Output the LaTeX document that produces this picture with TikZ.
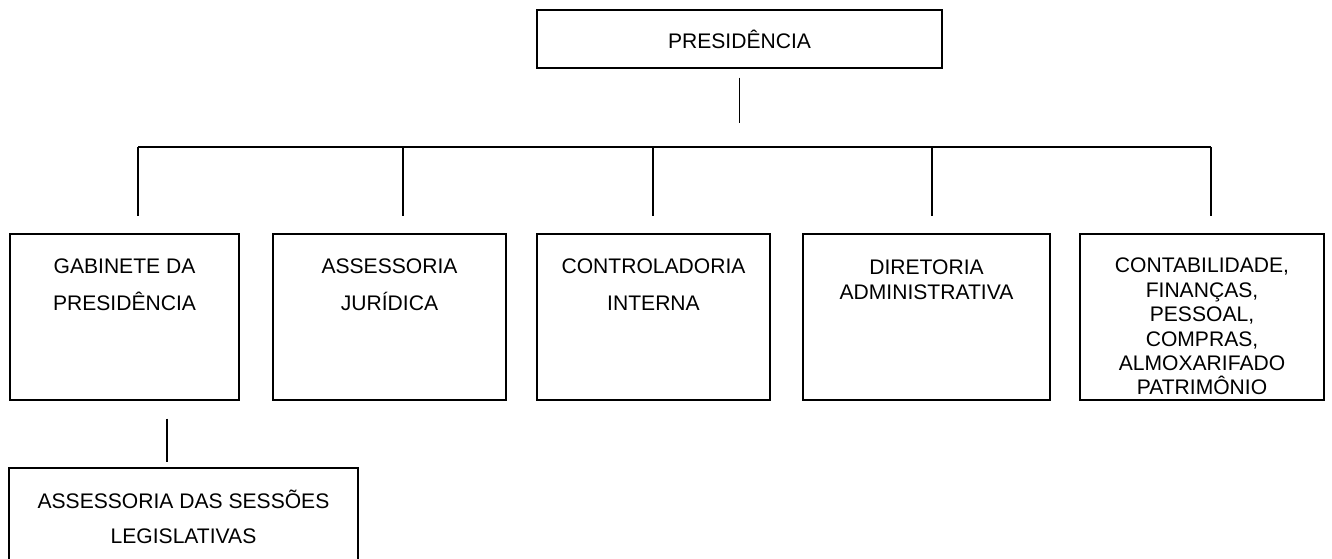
\documentclass[tikz,border=0pt]{standalone}
\usepackage{fontspec}
\setmainfont{Liberation Sans}
\usetikzlibrary{positioning}

\begin{document}
\begin{tikzpicture}[x=0.02cm, y=-0.02cm, line width=0.7pt,
  caixa/.style={draw, inner sep=0pt},
  texto/.style={align=center, inner sep=0pt, font=\fontsize{12}{#1}\selectfont},
  texto/.default=21pt]
\useasboundingbox (0,0) rectangle (1332,558);
\clip (0,0) rectangle (1332,558);
\node[caixa, minimum width=8.1cm, minimum height=1.16cm, font=\fontsize{12}{14}\selectfont] (pres) at (739.5,39) {PRESIDÊNCIA};
\node[caixa, minimum width=4.58cm, minimum height=3.32cm] (gab) at (124.5,317) {};
\node[caixa, minimum width=4.66cm, minimum height=3.32cm] (jur) at (389.5,317) {};
\node[caixa, minimum width=4.66cm, minimum height=3.32cm] (ctrl) at (653.5,317) {};
\node[caixa, minimum width=4.94cm, minimum height=3.32cm] (dir) at (926.5,317) {};
\node[caixa, minimum width=4.88cm, minimum height=3.32cm] (cont) at (1202,317) {};
\node[caixa, minimum width=6.98cm, minimum height=2.8cm] (sess) at (183.5,538) {};
\node[texto, below=0.5cm of gab.north] (gabtexto) {GABINETE DA\\PRESIDÊNCIA};
\node[texto, below=0.5cm of jur.north] (jurtexto) {ASSESSORIA\\JURÍDICA};
\node[texto, below=0.5cm of ctrl.north] (ctrltexto) {CONTROLADORIA\\INTERNA};
\node[texto=13.9pt, below=0.52cm of dir.north] (dirtexto) {DIRETORIA\\ADMINISTRATIVA};
\node[texto=13.9pt, below=0.48cm of cont.north] (conttexto) {CONTABILIDADE,\\FINANÇAS,\\PESSOAL,\\COMPRAS,\\ALMOXARIFADO\\PATRIMÔNIO};
\node[texto=19.9pt, below=0.44cm of sess.north] (sesstexto) {ASSESSORIA DAS SESSÕES\\LEGISLATIVAS};
\coordinate (d1) at (138,147);
\coordinate (d2) at (403,147);
\coordinate (d3) at (653,147);
\coordinate (d4) at (932,147);
\coordinate (d5) at (1211,147);
\draw[shorten <=0.18cm, shorten >=0.48cm] (pres.south) -- (pres.south |- d1);
\draw (d1) -- (d5);
\foreach \d/\c in {d1/gab, d2/jur, d3/ctrl, d4/dir, d5/cont}
  \draw[shorten >=0.34cm] (\d) -- (\d |- \c.north);
\draw[shorten <=0.36cm, shorten >=0.1cm] ([xshift=0.85cm]gab.south) -- ([xshift=0.85cm]gab.south |- sess.north);
\end{tikzpicture}
\end{document}
